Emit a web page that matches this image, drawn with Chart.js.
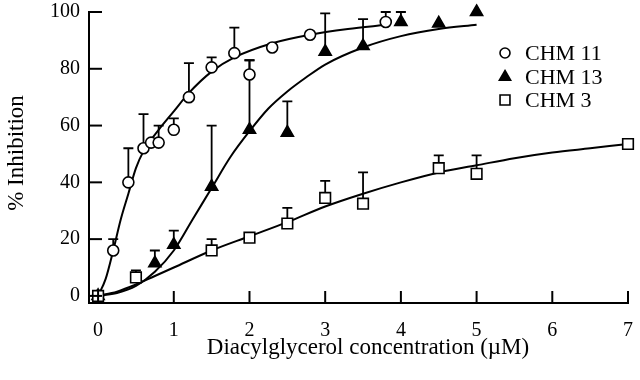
<!DOCTYPE html>
<html>
<head>
<meta charset="utf-8">
<script src="https://cdn.jsdelivr.net/npm/chart.js@4.4.1/dist/chart.umd.min.js"></script>
<style>
  html, body { margin: 0; padding: 0; background: #fff; }
  #wrap { width: 640px; height: 380px; }
</style>
</head>
<body>
<div id="wrap"><canvas id="inhibitionChart" width="640" height="380"></canvas></div>
<script>
// measured points (x = diacylglycerol uM, y = % inhibition, upper = top of error bar)
const chm11X = [0, 0.2, 0.4, 0.6, 0.7, 0.8, 1.0, 1.2, 1.5, 1.8, 2.0, 2.3, 2.8, 3.8];
const chm11Y = [0, 16, 40, 52, 54, 54, 58.5, 70, 80.5, 85.5, 78, 87.5, 92, 96.5];
const chm11Upper = [null, 20, 52, 64, null, 60, 62.5, 82, 84, 94.5, 83, null, null, 100];

const chm13X = [0, 0.75, 1.0, 1.5, 2.0, 2.5, 3.0, 3.5, 4.0, 4.5, 5.0];
const chm13Y = [0, 11.5, 18, 38.5, 58.5, 57.5, 86, 88, 96.5, 96, 100];
const chm13Upper = [null, 16, 23, 60, 83, 68.5, 99.5, 97.5, 100, null, null];

const chm3X = [0, 0.5, 1.5, 2.0, 2.5, 3.0, 3.5, 4.5, 5.0, 7.0];
const chm3Y = [0, 6.5, 16, 20.5, 25.5, 34.5, 32.5, 45, 43, 53.5];
const chm3Upper = [null, 9, 20, null, 31, 40.5, 43.5, 49.5, 49.5, null];

// fitted curves
const fit11X = [0, 0.1, 0.2, 0.3, 0.4, 0.5, 0.6, 0.7, 0.8, 1.0, 1.2, 1.5, 1.8, 2.3, 2.8, 3.3, 3.8];
const fit11Y = [0, 6, 16, 27, 36, 45, 51, 55, 58.5, 65, 71.5, 79, 84, 89, 92, 94, 95.5];

const fit13X = [0, 0.25, 0.5, 0.75, 1.0, 1.25, 1.5, 1.75, 2.0, 2.25, 2.5, 2.75, 3.0, 3.5, 4.0, 4.5, 5.0];
const fit13Y = [0, 1, 3.5, 8.5, 16, 27, 38, 49, 58, 66, 72, 77, 81.5, 87.5, 91.5, 94, 95.5];

const fit3X = [0, 0.25, 0.5, 0.75, 1.0, 1.5, 2.0, 2.5, 3.0, 3.5, 4.0, 4.5, 5.0, 5.5, 6.0, 6.5, 7.0];
const fit3Y = [0, 1.5, 4, 7, 10, 16, 21, 26, 31.5, 36, 40, 43.5, 46, 48.5, 50.5, 52, 53.5];

const xTicks = [0, 1, 2, 3, 4, 5, 6, 7];
const yTicks = [0, 20, 40, 60, 80, 100];

const legendLabels = ["CHM 11", "CHM 13", "CHM 3"];
const xTitle = "Diacylglycerol concentration (\u00b5M)";
const yTitle = "% Inhibition";

const serif = "'Liberation Serif', 'DejaVu Serif', serif";

const toPoints = (xs, ys) => xs.map((x, i) => ({ x: x, y: ys[i] }));

const curve = (xs, ys) => ({
  data: toPoints(xs, ys),
  showLine: true,
  borderColor: "#000",
  borderWidth: 2,
  pointRadius: 0,
  cubicInterpolationMode: "monotone",
  clip: false,
  order: 3,
});

const markerSets = [
  { style: "circle", radius: 5.5, fill: "#fff", upper: chm11Upper },
  { style: "triangle", radius: 7, fill: "#000", upper: chm13Upper },
  { style: "rect", radius: 7.5, fill: "#fff", upper: chm3Upper },
];

// error bars (upward only, T cap), drawn under the markers
const errorBars = {
  id: "errorBars",
  beforeDatasetsDraw(chart) {
    const { ctx, scales } = chart;
    ctx.save();
    ctx.strokeStyle = "#000";
    ctx.lineWidth = 1.8;
    chart.data.datasets.forEach((ds) => {
      if (!ds.upper) return;
      ds.data.forEach((p, i) => {
        const up = ds.upper[i];
        if (up == null) return;
        const x = scales.x.getPixelForValue(p.x);
        const y0 = scales.y.getPixelForValue(p.y);
        const y1 = scales.y.getPixelForValue(up);
        ctx.beginPath();
        ctx.moveTo(x, y0);
        ctx.lineTo(x, y1);
        ctx.moveTo(x - 5, y1);
        ctx.lineTo(x + 5, y1);
        ctx.stroke();
      });
    });
    ctx.restore();
  },
};

// inward tick marks, axis titles and the legend box
const decorations = {
  id: "decorations",
  afterDraw(chart) {
    const { ctx, scales, chartArea } = chart;
    ctx.save();
    ctx.strokeStyle = "#000";
    ctx.lineWidth = 2;
    yTicks.forEach((v) => {
      const y = scales.y.getPixelForValue(v);
      ctx.beginPath();
      ctx.moveTo(chartArea.left, y);
      ctx.lineTo(chartArea.left + 13, y);
      ctx.stroke();
    });
    xTicks.forEach((v) => {
      const x = scales.x.getPixelForValue(v);
      ctx.beginPath();
      ctx.moveTo(x, chartArea.bottom);
      ctx.lineTo(x, chartArea.bottom - 12);
      ctx.stroke();
    });

    ctx.fillStyle = "#000";
    ctx.font = "23px " + serif;
    ctx.textAlign = "center";
    ctx.textBaseline = "middle";
    ctx.fillText(xTitle, 368, 348);
    ctx.save();
    ctx.translate(17, 153);
    ctx.rotate(-Math.PI / 2);
    ctx.fillText(yTitle, 0, 0);
    ctx.restore();

    // legend
    const rows = [53, 77, 100];
    ctx.font = "22px " + serif;
    ctx.textAlign = "left";
    markerSets.forEach((m, i) => {
      ctx.fillStyle = m.fill;
      ctx.strokeStyle = "#000";
      ctx.lineWidth = 1.6;
      Chart.helpers.drawPoint(ctx, { pointStyle: m.style, radius: m.style === "rect" ? 7 : m.radius - 0.5, rotation: 0, borderWidth: 1.6 }, 505, rows[i]);
      ctx.fillStyle = "#000";
      ctx.fillText(legendLabels[i], 525, rows[i] + 1);
    });
    ctx.restore();
  },
};

const points = (xs, ys, m, order) => ({
  data: toPoints(xs, ys),
  upper: m.upper,
  showLine: false,
  pointStyle: m.style,
  pointRadius: m.radius,
  pointBackgroundColor: m.fill,
  pointBorderColor: "#000",
  pointBorderWidth: 1.6,
  clip: false,
  order: order,
});

new Chart(document.getElementById("inhibitionChart"), {
  type: "scatter",
  data: {
    datasets: [
      curve(fit11X, fit11Y),
      curve(fit13X, fit13Y),
      curve(fit3X, fit3Y),
      points(chm13X, chm13Y, markerSets[1], 2),
      points(chm11X, chm11Y, markerSets[0], 1),
      points(chm3X, chm3Y, markerSets[2], 0),
    ],
  },
  options: {
    responsive: false,
    animation: false,
    layout: { padding: { top: 12, right: 12, left: 0, bottom: 0 } },
    plugins: {
      legend: { display: false },
      tooltip: { enabled: false },
    },
    scales: {
      x: {
        type: "linear",
        min: -0.12,
        max: 7,
        afterBuildTicks: (s) => { s.ticks = xTicks.map((v) => ({ value: v })); },
        afterFit: (s) => { s.height = 77; s.paddingLeft = 0; s.paddingRight = 0; },
        grid: { drawOnChartArea: false, drawTicks: false },
        border: { display: true, color: "#000", width: 2 },
        ticks: { color: "#000", padding: 16, font: { family: serif, size: 20 } },
      },
      y: {
        type: "linear",
        min: -2.5,
        max: 100,
        afterBuildTicks: (s) => { s.ticks = yTicks.map((v) => ({ value: v })); },
        afterFit: (s) => { s.width = 89; s.paddingTop = 0; s.paddingBottom = 0; },
        grid: { drawOnChartArea: false, drawTicks: false },
        border: { display: true, color: "#000", width: 2 },
        ticks: { color: "#000", padding: 9, font: { family: serif, size: 20 } },
      },
    },
  },
  plugins: [errorBars, decorations],
});
</script>
</body>
</html>
